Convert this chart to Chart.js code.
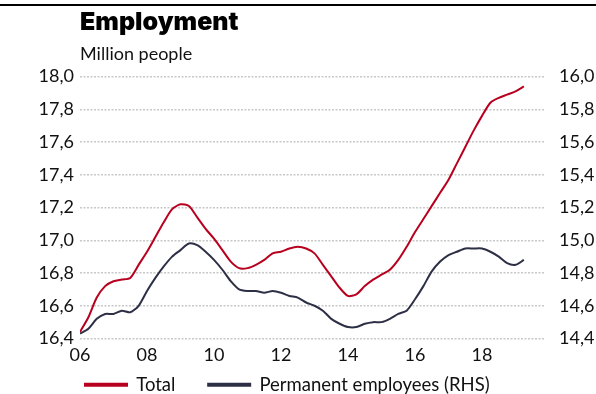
<!DOCTYPE html>
<html>
<head>
<meta charset="utf-8">
<script src="https://cdn.jsdelivr.net/npm/chart.js@4/dist/chart.umd.min.js"></script>
<style>
  html, body { margin: 0; padding: 0; background: #fff; }
  #wrap { width: 596px; height: 394px; position: relative; }
</style>
</head>
<body>
<div id="wrap"><canvas id="chart"></canvas></div>
<script>
// quarters from 2006 Q1 to 2019 Q2
var startYear = 2006;
var total = [
  16.44, 16.53, 16.65, 16.72, 16.75, 16.76, 16.77, 16.85,
  16.93, 17.02, 17.11, 17.19, 17.22, 17.21, 17.14, 17.07,
  17.01, 16.94, 16.87, 16.83, 16.83, 16.85, 16.88, 16.92,
  16.93, 16.95, 16.96, 16.95, 16.92, 16.85, 16.78, 16.71,
  16.66, 16.67, 16.72, 16.76, 16.79, 16.82, 16.88, 16.96,
  17.05, 17.13, 17.21, 17.29, 17.37, 17.47, 17.57, 17.67,
  17.76, 17.84, 17.87, 17.89, 17.91, 17.94
];
var permanent = [
  14.43, 14.46, 14.52, 14.55, 14.55, 14.57, 14.56, 14.60,
  14.69, 14.77, 14.84, 14.90, 14.94, 14.98, 14.97, 14.93,
  14.88, 14.82, 14.75, 14.70, 14.69, 14.69, 14.68, 14.69,
  14.68, 14.66, 14.65, 14.62, 14.60, 14.57, 14.52, 14.49,
  14.47, 14.47, 14.49, 14.50, 14.50, 14.52, 14.55, 14.57,
  14.64, 14.72, 14.81, 14.87, 14.91, 14.93, 14.95, 14.95,
  14.95, 14.93, 14.90, 14.86, 14.85, 14.88
];
var yearTicks = [2006, 2008, 2010, 2012, 2014, 2016, 2018];
var leftTicks = [16.4, 16.6, 16.8, 17.0, 17.2, 17.4, 17.6, 17.8, 18.0];
var rightTicks = [14.4, 14.6, 14.8, 15.0, 15.2, 15.4, 15.6, 15.8, 16.0];

function toPoints(arr) {
  return arr.map(function(v, i) { return { x: startYear + i / 4, y: v }; });
}
function fixTicks(list) {
  return function(s) { s.ticks = list.map(function(v) { return { value: v }; }); };
}
function comma(v) { return v.toFixed(1).replace('.', ','); }

var txt = '#111';
var bodyFont = 'Lato';

// black rule along the top edge
var topRule = {
  id: 'topRule',
  beforeDraw: function(chart) {
    var ctx = chart.ctx;
    ctx.save();
    ctx.fillStyle = '#000';
    ctx.fillRect(0, 4, chart.width, 2);
    ctx.restore();
  }
};

new Chart(document.getElementById('chart'), {
  type: 'line',
  data: {
    datasets: [{
      label: 'Total',
      data: toPoints(total),
      borderColor: '#b8001f',
      backgroundColor: '#b8001f',
      borderWidth: 2,
      pointRadius: 0,
      tension: 0.25,
      yAxisID: 'y'
    }, {
      label: 'Permanent employees (RHS)',
      data: toPoints(permanent),
      borderColor: '#2d2f45',
      backgroundColor: '#2d2f45',
      borderWidth: 2,
      pointRadius: 0,
      tension: 0.25,
      yAxisID: 'y1'
    }]
  },
  options: {
    responsive: true,
    maintainAspectRatio: false,
    animation: false,
    layout: { padding: { top: 6, bottom: -10, left: 0, right: 0 } },
    plugins: {
      title: {
        display: true,
        text: 'Employment',
        align: 'start',
        fullSize: false,
        color: '#000',
        font: { family: 'Inter', size: 25, weight: '900' },
        padding: { top: 1, bottom: 2 }
      },
      subtitle: {
        display: true,
        text: 'Million people',
        align: 'start',
        fullSize: false,
        color: txt,
        font: { family: bodyFont, size: 18 },
        padding: { top: 4, bottom: 12 }
      },
      legend: {
        position: 'bottom',
        align: 'start',
        fullSize: false,
        labels: {
          color: txt,
          font: { family: bodyFont, size: 18.5 },
          boxWidth: 42,
          boxHeight: 2,
          padding: 5,
          // wider gap between the two entries
          generateLabels: function(chart) {
            var items = Chart.defaults.plugins.legend.labels.generateLabels(chart);
            items[0].text = items[0].text + '\u2003\u2003';
            return items;
          }
        }
      },
      tooltip: { enabled: false }
    },
    scales: {
      x: {
        type: 'linear',
        min: 2006,
        max: 2019.88,
        border: { display: false },
        grid: { display: false, drawTicks: false },
        afterFit: function(s) { s.height = 32; },
        afterBuildTicks: fixTicks(yearTicks),
        ticks: {
          color: txt,
          font: { family: bodyFont, size: 18 },
          maxRotation: 0,
          padding: 6,
          callback: function(v) { return String(v).slice(2); }
        }
      },
      y: {
        position: 'left',
        min: 16.4,
        max: 18.0,
        border: { display: false, dash: [2, 1.5] },
        afterFit: function(s) { s.width = 80; },
        afterBuildTicks: fixTicks(leftTicks),
        grid: {
          color: '#c8c8c8',
          lineWidth: 1.5,
          drawTicks: false
        },
        ticks: {
          color: txt,
          font: { family: bodyFont, size: 18 },
          padding: 6,
          callback: function(v) { return comma(v); }
        }
      },
      y1: {
        position: 'right',
        min: 14.4,
        max: 16.0,
        border: { display: false },
        afterFit: function(s) { s.width = 51; },
        afterBuildTicks: fixTicks(rightTicks),
        grid: { display: false, drawTicks: false },
        ticks: {
          color: txt,
          font: { family: bodyFont, size: 18 },
          padding: 14,
          callback: function(v) { return comma(v); }
        }
      }
    }
  },
  plugins: [topRule]
});
</script>
</body>
</html>
